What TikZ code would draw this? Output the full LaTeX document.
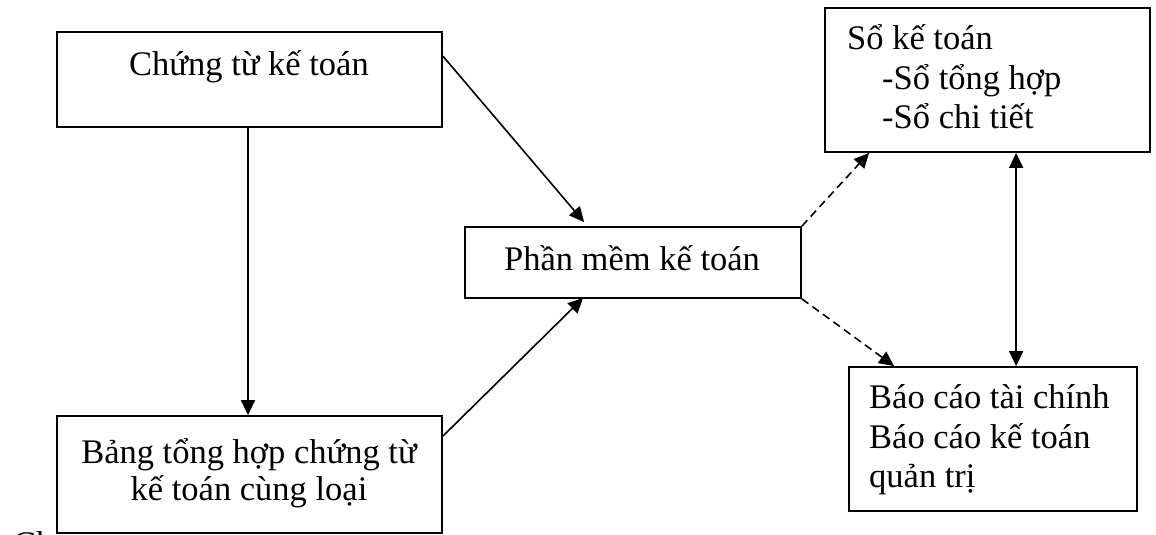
\documentclass[tikz,border=0pt]{standalone}
\usepackage{fontspec}
\setmainfont{Liberation Serif}
\usetikzlibrary{arrows.meta,calc}
\begin{document}
\begin{tikzpicture}[x=1pt,y=-1pt,
  box/.style={draw,line width=1.8pt,rectangle,inner sep=0pt},
  txt/.style={inner sep=0pt,font=\fontsize{34.5}{40}\selectfont},
  conn/.style={line width=1.6pt,-{Triangle[length=15pt,width=14pt]}},
  dconn/.style={conn,dash pattern=on 8pt off 5pt},
  biconn/.style={line width=1.6pt,{Triangle[length=15pt,width=14pt]}-{Triangle[length=15pt,width=14pt]}}]
\useasboundingbox (0,0) rectangle (1156,535);
% boxes
\node[box,minimum width=385pt,minimum height=95pt] (A) at (249.5,79.5) {};
\node[box,minimum width=385pt,minimum height=117pt] (B) at (249.5,474.5) {};
\node[box,minimum width=336pt,minimum height=71pt] (C) at (633,262.5) {};
\node[box,minimum width=325pt,minimum height=144pt] (D) at (987.5,80) {};
\node[box,minimum width=288pt,minimum height=144pt] (E) at (993,439) {};
% texts
\node[txt,anchor=base] (tA) at (249,75) {Chứng từ kế toán};
\node[txt,anchor=base] (tB1) at (249,463) {Bảng tổng hợp chứng từ};
\node[txt,anchor=base] (tB2) at (249,500) {kế toán cùng loại};
\node[txt,anchor=base] (tC) at (632,270) {Phần mềm kế toán};
\node[txt,anchor=base west] (tD1) at (847,50) {Sổ kế toán};
\node[txt,anchor=base west] (tD2) at (882,89) {-Sổ tổng hợp};
\node[txt,anchor=base west] (tD3) at (882,128) {-Sổ chi tiết};
\node[txt,anchor=base west] (tE1) at (869,408) {Báo cáo tài chính};
\node[txt,anchor=base west] (tE2) at (869,448) {Báo cáo kế toán};
\node[txt,anchor=base west] (tE3) at (869,487) {quản trị};
\node[txt,anchor=base west] (tF) at (13,555) {Ch};
% connectors
\draw[conn] (A.south -| 248,0) -- (B.north -| 248,0);
\draw[conn] ($(A.north east)+(0,25)$) -- ($(C.north west)+(120,-4)$);
\draw[conn] ($(B.north east)+(0,21)$) -- ($(C.south west)+(119,-1)$);
\draw[dconn] (C.north east) -- ($(D.south west)+(45,0)$);
\draw[dconn] (C.south east) -- ($(E.north west)+(46,0)$);
\draw[biconn] ($(D.south west)+(192,0)$) -- ($(E.north west)+(168,0)$);
\end{tikzpicture}
\end{document}
